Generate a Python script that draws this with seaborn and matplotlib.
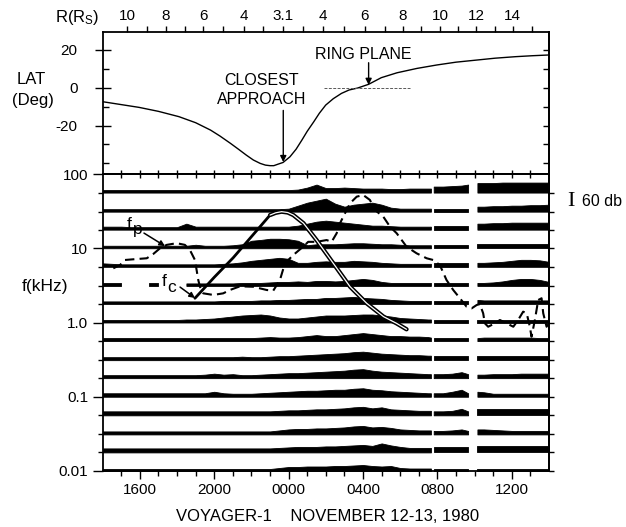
import numpy as np
import matplotlib
matplotlib.use("Agg")
import matplotlib.pyplot as plt
from matplotlib.ticker import FixedLocator, FixedFormatter, NullFormatter, NullLocator
import seaborn as sns

nan = float("nan")

# ---------------- data ----------------
# time in hours after 1400 UT, Nov 12 1980
hours = [0.0, 0.5, 1.0, 1.5, 2.0, 2.5, 3.0, 3.5, 4.0, 4.5, 5.0, 5.5, 6.0, 6.5, 7.0, 7.5, 8.0, 8.5, 9.0, 9.5, 10.0,
         10.5, 11.0, 11.5, 12.0, 12.5, 13.0, 13.5, 14.0, 14.5, 15.0, 15.5, 16.0, 16.5, 17.0, 17.5, 17.65,
         17.8, 18.3, 18.8, 19.3, 19.65,
         20.15, 20.5, 21.0, 21.5, 22.0, 22.5, 23.0, 23.5, 24.0]
data_gap_starts = [17.65, 19.65]

channels_khz = [56.2, 31.1, 17.8, 10.0, 5.62, 3.11, 1.78, 1.0, 0.562, 0.311, 0.178, 0.1, 0.0562, 0.0311, 0.0178, 0.01]

# channel intensities (dB above reference) for each time in `hours`
db_56k2 = [15, 15, 15, 15, 15, 15, 15, 15, 15, 15, 15, 15, 15, 15, 15, 15, 15, 15, 15, 15, 15,
           18, 30, 48, 27, 27, 30, 27, 24, 24, 24, 21, 21, 24, 24, 24, 24,
           36, 36, 39, 42, 48,
           57, 57, 57, 60, 60, 60, 60, 60, 60]
db_31k1 = [15, 15, 15, 15, 15, 15, 15, 15, 15, 15, 15, 15, 15, 15, 15, 15, 15, 15, 15, 15, 18,
           36, 54, 66, 78, 48, 30, 42, 48, 54, 42, 24, 18, 18, 18, 18, 18,
           18, 18, 18, 18, 18,
           30, 30, 33, 33, 36, 36, 39, 39, 42]
db_17k8 = [18, 18, 18, 15, 15, 15, 15, 15, 15, 36, 18, 18, 18, 18, 18, 18, 18, 18, 18, 18, 18,
           24, 36, 48, 54, 48, 42, 36, 30, 24, 24, 21, 18, 18, 18, 18, 18,
           21, 21, 21, 21, 21,
           36, 36, 39, 39, 42, 42, 42, 42, 42]
db_10k0 = [15, 15, 15, 15, 15, 15, 15, 15, 15, 15, 21, 15, 15, 15, 18, 24, 45, 50, 57, 57, 54,
           45, 18, 24, 24, 24, 27, 30, 30, 27, 24, 24, 21, 18, 18, 18, 18,
           18, 18, 18, 18, 18,
           27, 27, 27, 27, 27, 27, 27, 27, 27]
db_5k62 = [21, 18, 15, 15, 15, 15, 15, 15, 15, 15, 15, 15, 15, 18, 21, 27, 36, 42, 48, 54, 48,
           24, 24, 30, 33, 30, 30, 36, 33, 30, 24, 21, 18, 18, 18, 18, 18,
           21, 21, 21, 21, 21,
           24, 24, 27, 30, 36, 42, 42, 39, 30]
db_3k11 = [18, 18, 18, nan, nan, 18, 18, nan, nan, 15, 15, 15, 15, 15, 15, 18, 18, 18, 21, 24, 24,
           27, 24, 30, 30, 27, 30, 36, 42, 36, 24, 18, 18, 18, 18, 18, 18,
           18, 18, 18, 18, 18,
           18, 18, 21, 27, 36, 42, 42, 36, 24]
db_1k78 = [15, 15, 15, 15, 15, 15, 15, 15, 15, 15, 15, 15, 15, 18, 18, 18, 18, 21, 21, 24, 24,
           27, 30, 30, 36, 36, 39, 42, 36, 33, 30, 24, 21, 18, 18, 18, 18,
           18, 18, 18, 18, 18,
           24, 21, 21, 21, 21, 21, 21, 21, 21]
db_1k00 = [15, 15, 15, 15, 15, 15, 15, 15, 15, 18, 18, 21, 24, 30, 36, 42, 45, 48, 42, 30, 24,
           24, 30, 36, 42, 42, 42, 45, 48, 48, 42, 36, 27, 24, 21, 18, 18,
           18, 18, 18, 18, 18,
           18, 18, 18, 18, 18, 18, 18, 18, 18]
db_562 = [18, 18, 18, 18, 18, 18, 18, 18, 18, 18, 18, 18, 18, 18, 18, 18, 18, 21, 24, 21, 21,
          24, 30, 36, 30, 30, 36, 42, 48, 42, 36, 30, 30, 27, 27, 24, 21,
          21, 21, 21, 21, 21,
          18, 21, 21, 21, 21, 21, 21, 18, 18]
db_311 = [18, 18, 18, 18, 18, 18, 18, 18, 18, 18, 18, 18, 18, 18, 18, 21, 18, 18, 21, 24, 24,
          27, 30, 33, 36, 39, 42, 48, 51, 45, 39, 36, 33, 30, 30, 27, 27,
          24, 24, 24, 24, 24,
          24, 24, 24, 24, 24, 24, 24, 24, 24]
db_178 = [18, 18, 18, 18, 18, 18, 18, 18, 18, 18, 18, 21, 27, 21, 24, 18, 18, 21, 24, 27, 30,
          30, 33, 36, 39, 42, 45, 51, 54, 45, 39, 36, 33, 30, 27, 24, 24,
          24, 24, 27, 36, 24,
          21, 21, 24, 24, 24, 27, 27, 27, 27]
db_100 = [21, 21, 21, 21, 21, 21, 21, 21, 21, 21, 21, 21, 30, 21, 18, 18, 18, 21, 24, 27, 30,
          33, 36, 36, 39, 42, 42, 48, 51, 42, 39, 33, 30, 27, 24, 21, 21,
          21, 21, 30, 42, 21,
          30, 27, 18, 18, 18, 18, 18, 18, 18]
db_56 = [24, 24, 24, 24, 24, 24, 24, 24, 24, 24, 24, 24, 24, 24, 24, 24, 24, 24, 24, 27, 30,
         30, 33, 36, 36, 39, 42, 48, 51, 42, 48, 36, 33, 30, 27, 27, 27,
         24, 24, 27, 39, 24,
         36, 36, 36, 36, 36, 36, 36, 36, 36]
db_31 = [18, 18, 18, 18, 18, 18, 18, 18, 18, 18, 18, 18, 18, 18, 18, 18, 18, 18, 18, 24, 30,
         33, 33, 36, 36, 39, 42, 48, 51, 42, 45, 39, 30, 27, 24, 24, 24,
         21, 21, 24, 30, 21,
         30, 30, 27, 24, 21, 21, 21, 21, 21]
db_17 = [24, 24, 24, 24, 24, 24, 24, 24, 24, 24, 24, 24, 24, 24, 24, 24, 24, 24, 24, 27, 30,
         33, 33, 33, 36, 36, 39, 42, 45, 39, 54, 42, 33, 27, 27, 27, 27,
         30, 30, 30, 30, 30,
         36, 36, 36, 36, 36, 36, 36, 36, 36]
db_10 = [12, 12, 12, 12, 12, 12, 12, 12, 12, 12, 12, 12, 12, 12, 12, 12, 12, 12, 12, 18, 24,
         24, 27, 27, 27, 30, 30, 33, 36, 30, 27, 30, 18, 15, 15, 15, 15,
         12, 12, 12, 12, 12,
         15, 15, 15, 15, 15, 15, 15, 15, 15]

spectra = [db_56k2, db_31k1, db_17k8, db_10k0, db_5k62, db_3k11, db_1k78, db_1k00,
           db_562, db_311, db_178, db_100, db_56, db_31, db_17, db_10]

# electron cyclotron frequency fc (kHz)
fc_hours = [4.96, 6.0, 7.02, 7.92, 8.46, 9.0, 9.3, 9.62, 9.95, 10.25, 10.8, 11.5, 12.4, 13.3, 14.2, 15.1, 15.8, 16.34]
fc_khz = [2.12, 4.07, 7.46, 13.6, 19.5, 28.0, 30.0, 31.1, 30.3, 28.0, 21.7, 12.9, 6.27, 3.04, 1.81, 1.20, 0.975, 0.81]

# electron plasma frequency fp (kHz)
fp_hours = [0.57, 0.93, 1.20, 1.65, 2.37, 2.72, 3.08, 3.44, 3.98, 4.42, 4.69, 4.96, 5.05, 5.14, 5.23, 5.41,
            5.95, 6.48, 6.84, 7.38, 8.10, 8.82, 9.17, 9.53, 9.80, 10.25, 10.78, 11.05, 11.51, 12.04, 12.31,
            12.58, 12.76, 13.03, 13.30, 13.66, 14.01, 14.37, 14.64, 15.09, 15.45, 15.81, 16.34, 16.88, 17.42,
            17.77, 18.13, 18.49, 18.85, 19.21, 19.57, 19.84, 20.11, 20.28, 20.46, 20.55, 20.73, 21.09, 21.36,
            21.72, 22.08, 22.34, 22.61, 22.80, 22.97, 23.06, 23.24, 23.42, 23.60, 23.69, 23.87, 24.0]
fp_khz = [5.37, 5.94, 6.95, 7.10, 7.33, 8.37, 9.98, 11.1, 11.7, 11.1, 9.47, 6.95, 5.09, 3.73, 3.03, 2.47,
          2.35, 2.47, 2.74, 3.07, 3.03, 2.74, 2.68, 3.73, 6.27, 8.11, 10.5, 12.2, 12.2, 12.9, 12.2,
          15.9, 21.7, 29.6, 40.3, 49.5, 52.1, 44.7, 32.7, 26.6, 19.5, 15.9, 10.5, 8.55, 7.33,
          6.95, 5.94, 3.73, 2.74, 2.12, 1.63, 1.55, 1.72, 1.77, 1.33, 0.975, 0.877, 0.975, 1.08,
          0.975, 0.877, 1.08, 1.40, 1.33, 0.877, 0.644, 1.08, 2.01, 2.12, 1.33, 0.877, 0.975]

# spacecraft latitude (deg)
lat_hours = [0.0, 1.96, 3.0, 4.1, 5.0, 5.8, 6.3, 6.87, 7.3, 7.72, 8.1, 8.47, 8.75, 9.0, 9.2, 9.43, 9.7, 10.07,
             10.4, 10.71, 11.0, 11.35, 11.65, 11.99, 12.4, 12.84, 13.25, 13.7, 14.3, 14.98, 15.83, 16.9,
             17.96, 19.0, 20.1, 21.1, 22.2, 23.1, 24.0]
lat_deg = [-7.4, -10.4, -12.5, -15.3, -18.5, -22.4, -25.5, -29.4, -32.5, -35.6, -38.2, -40.0, -40.9, -41.2,
           -41.2, -40.4, -39.5, -36.5, -32.5, -27.7, -23.0, -18.0, -13.5, -9.2, -5.8, -3.0, -1.2, -0.2, 1.8,
           5.3, 7.9, 10.2, 12.0, 13.5, 14.6, 15.6, 16.4, 16.9, 17.3]
ring_plane_span = [11.9, 16.5]

# axis ticks and labels
r_tick_hours = [1.32, 3.4, 5.41, 7.6, 9.71, 11.86, 14.1, 16.13, 18.15, 20.07, 22.04]
r_tick_labels = ["10", "8", "6", "4", "3.1", "4", "6", "8", "10", "12", "14"]
r_minor_hours = [2.4, 4.43, 6.48, 8.63, 10.78, 13.0, 15.17, 17.09, 19.11, 21.1, 23.06]
time_tick_hours = [2, 6, 10, 14, 18, 22]
time_tick_labels = ["1600", "2000", "0000", "0400", "0800", "1200"]
hour_ticks = list(range(1, 24))
lat_ticks = [20, 0, -20]
lat_tick_labels = ["20", "0", "-20"]
lat_minor = [10, -10, -30, -40]
freq_ticks = [0.01, 0.1, 1.0, 10, 100]
freq_tick_labels = ["0.01", "0.1", "1.0", "10", "100"]

# ---------------- style ----------------
sns.set_theme(style="ticks")
plt.rcParams.update({
    "font.family": ["Liberation Sans", "DejaVu Sans"],
    "mathtext.fontset": "custom",
    "mathtext.rm": "Liberation Sans",
    "mathtext.it": "Liberation Sans:italic",
    "axes.linewidth": 1.3,
    "axes.edgecolor": "black",
    "xtick.color": "black",
    "ytick.color": "black",
    "text.color": "black",
    "axes.labelcolor": "black",
    "figure.facecolor": "white",
    "axes.facecolor": "white",
})

W, Hh = 626, 527
def fx(x):
    return x / W
def fy(y):
    return 1 - y / Hh

fig = plt.figure(figsize=(6.26, 5.27), dpi=100)
left_px, right_px = 102.7, 549.0
ax_top = fig.add_axes([fx(left_px), fy(174), (right_px - left_px) / W, (174 - 31.7) / Hh])
ax = fig.add_axes([fx(left_px), fy(471), (right_px - left_px) / W, (471 - 174) / Hh])

# ---------------- top panel ----------------
sns.lineplot(x=lat_hours, y=lat_deg, ax=ax_top, color="black", lw=1.0, sort=False, estimator=None)
ax_top.hlines(0, ring_plane_span[0], ring_plane_span[1], colors="0.35", lw=0.7, linestyles=(0, (3, 1.5)))
ax_top.set_xlim(0, 24)
ax_top.set_ylim(-45.6, 29.6)
ax_top.set_xlabel("")
ax_top.set_ylabel("")
ax_top.text(8.55, 4.0, "CLOSEST", ha="center", va="center", fontsize=11.5)
ax_top.text(8.55, -6.4, "APPROACH", ha="center", va="center", fontsize=11.5)
ax_top.annotate("", xy=(9.71, -39.3), xytext=(9.71, -12.0),
                arrowprops=dict(arrowstyle="-|>", color="black", lw=1.0, mutation_scale=9, shrinkA=0, shrinkB=0))
ax_top.text(14.0, 17.3, "RING PLANE", ha="center", va="center", fontsize=11.5)
ax_top.annotate("", xy=(14.3, 1.5), xytext=(14.3, 13.2),
                arrowprops=dict(arrowstyle="-|>", color="black", lw=1.0, mutation_scale=9, shrinkA=0, shrinkB=0))

ax_top.xaxis.tick_top()
ax_top.xaxis.set_major_locator(FixedLocator(r_tick_hours))
ax_top.xaxis.set_major_formatter(FixedFormatter(r_tick_labels))
ax_top.xaxis.set_minor_locator(FixedLocator(r_minor_hours))
ax_top.tick_params(axis="x", which="both", top=True, bottom=False, labeltop=True, labelbottom=False,
                   direction="out", length=4.5, width=1.0, pad=1.5, labelsize=11)
ax_top.yaxis.set_major_locator(FixedLocator(lat_ticks))
ax_top.yaxis.set_major_formatter(FixedFormatter(lat_tick_labels))
ax_top.yaxis.set_minor_locator(FixedLocator(lat_minor))
ax_top.tick_params(axis="y", which="major", left=True, right=False, direction="inout", length=12,
                   width=1.0, pad=12, labelsize=11)
ax_top.tick_params(axis="y", which="minor", left=True, right=False, direction="in", length=4, width=1.0)
sy = ax_top.secondary_yaxis("right")
sy.yaxis.set_major_locator(FixedLocator(lat_ticks + lat_minor))
sy.yaxis.set_minor_locator(NullLocator())
sy.tick_params(direction="in", length=4, width=1.0, labelright=False)
for s in ax_top.spines.values():
    s.set_linewidth(1.3)

# ---------------- bottom panel ----------------
ax.set_yscale("log")
ax.set_xlim(0, 24)
ax.set_ylim(0.01, 100)

db_scale_bar = 60          # dB represented by the scale bar
bar_height_decades = 10 / 74.25
dec_per_db = bar_height_decades / db_scale_bar

H = np.array(hours)
seg_id = [sum(h > g for g in data_gap_starts) for h in hours]

def runs(vals):
    groups, cur, prev = [], [], None
    for i, v in enumerate(vals):
        if not np.isfinite(v):
            if cur:
                groups.append(cur)
            cur, prev = [], None
            continue
        if prev is not None and seg_id[i] != prev:
            groups.append(cur)
            cur = []
        cur.append(i)
        prev = seg_id[i]
    if cur:
        groups.append(cur)
    return groups

for f0, vals in zip(channels_khz, spectra):
    v = np.array(vals, dtype=float)
    for g in runs(v):
        if len(g) < 2:
            continue
        idx = np.array(g)
        ax.fill_between(H[idx], f0, f0 * 10 ** (v[idx] * dec_per_db), color="black",
                        edgecolor="black", lw=0.6, zorder=1)

# fc curve: single line rising, double (hollow) line after the peak
sns.lineplot(x=fc_hours, y=fc_khz, ax=ax, color="black", lw=2.0, sort=False, estimator=None, zorder=3)
dbl = [i for i, h in enumerate(fc_hours) if h >= 8.9]
sns.lineplot(x=[fc_hours[i] for i in dbl], y=[fc_khz[i] for i in dbl], ax=ax, color="black", lw=3.1,
             sort=False, estimator=None, zorder=3)
sns.lineplot(x=[fc_hours[i] for i in dbl], y=[fc_khz[i] for i in dbl], ax=ax, color="white", lw=0.9,
             sort=False, estimator=None, zorder=4)

# fp curve: dashed
sns.lineplot(x=fp_hours, y=fp_khz, ax=ax, color="black", lw=1.5, sort=False, estimator=None, zorder=3)
ax.lines[-1].set_dashes([4.5, 2.5])

ax.set_xlabel("")
ax.set_ylabel("")

# labels fp / fc
ax.text(1.42, 21.2, "f", ha="center", va="center", fontsize=12.5)
ax.text(1.9, 18.0, "p", ha="center", va="center", fontsize=12.5)
ax.annotate("", xy=(3.35, 10.7), xytext=(2.22, 16.0),
            arrowprops=dict(arrowstyle="-|>", color="black", lw=1.1, mutation_scale=8, shrinkA=0, shrinkB=0))
ax.text(3.3, 3.62, "f", ha="center", va="center", fontsize=12.5)
ax.text(3.72, 2.95, "c", ha="center", va="center", fontsize=12.5)
ax.annotate("", xy=(4.96, 2.14), xytext=(4.16, 3.0),
            arrowprops=dict(arrowstyle="-|>", color="black", lw=1.1, mutation_scale=8, shrinkA=0, shrinkB=0))

# ticks
ax.yaxis.set_major_locator(FixedLocator(freq_ticks))
ax.yaxis.set_major_formatter(FixedFormatter(freq_tick_labels))
minor_ch = [c for c in channels_khz if c not in freq_ticks]
ax.yaxis.set_minor_locator(FixedLocator(minor_ch))
ax.yaxis.set_minor_formatter(NullFormatter())
ax.tick_params(axis="y", which="major", left=True, right=False, direction="out", length=7, width=1.0,
               pad=3.5, labelsize=11)
ax.tick_params(axis="y", which="minor", left=True, right=False, direction="out", length=3.5, width=1.0)
sr = ax.secondary_yaxis("right")
sr.yaxis.set_major_locator(FixedLocator(channels_khz))
sr.yaxis.set_minor_locator(NullLocator())
sr.tick_params(direction="out", length=3.5, width=1.0, labelright=False)

ax.xaxis.set_major_locator(FixedLocator(time_tick_hours))
ax.xaxis.set_major_formatter(FixedFormatter(time_tick_labels))
ax.xaxis.set_minor_locator(FixedLocator(hour_ticks))
ax.tick_params(axis="x", which="major", bottom=True, top=False, direction="out", length=6, width=1.0,
               pad=3, labelsize=11)
ax.tick_params(axis="x", which="minor", bottom=True, top=False, direction="out", length=3.5, width=1.0)
sx = ax.secondary_xaxis("top")
sx.xaxis.set_major_locator(FixedLocator(hour_ticks))
sx.xaxis.set_minor_locator(NullLocator())
sx.tick_params(direction="inout", length=6, width=1.0, labeltop=False)
for s in ax.spines.values():
    s.set_linewidth(1.3)

# ---------------- figure texts ----------------
fig.text(fx(55), fy(21.7), r"R(R$_\mathrm{S}$)", ha="left", va="baseline", fontsize=12)
fig.text(fx(31), fy(80), "LAT", ha="center", va="center", fontsize=12)
fig.text(fx(33), fy(101), "(Deg)", ha="center", va="center", fontsize=12)
fig.text(fx(45), fy(287), "f(kHz)", ha="center", va="center", fontsize=12.5)
fig.text(fx(570.5), fy(201), "I", ha="center", va="center", fontsize=16, family=["Liberation Serif", "DejaVu Serif"])
fig.text(fx(582), fy(202), "60 db", ha="left", va="center", fontsize=11.5)
fig.text(fx(327.5), fy(516.7), "VOYAGER-1    NOVEMBER 12-13, 1980", ha="center", va="center", fontsize=12)

fig.savefig("out.png", dpi=100)
